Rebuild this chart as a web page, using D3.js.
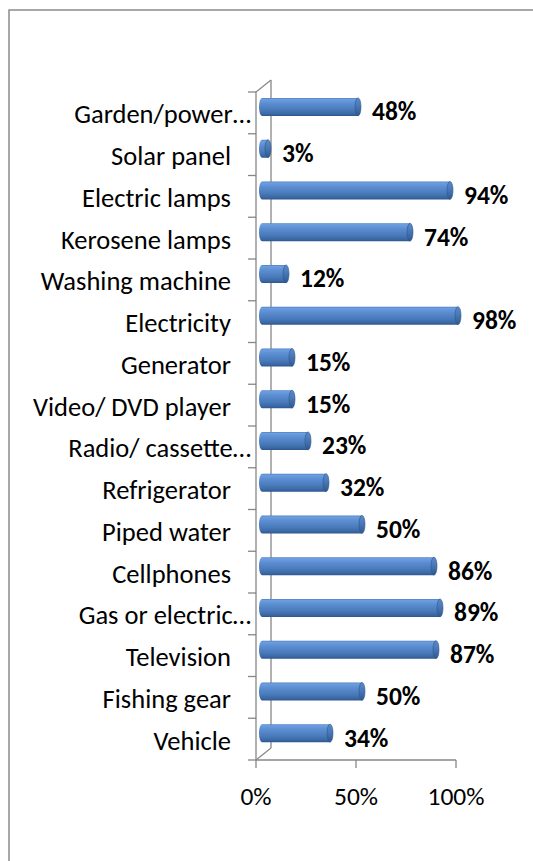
<!DOCTYPE html>
<html>
<head>
<meta charset="utf-8">
<script src="https://cdn.jsdelivr.net/npm/d3@7/dist/d3.min.js"></script>
<style>
  html, body { margin: 0; padding: 0; background: #fff; }
  svg { display: block; }
  text { font-family: Carlito, Calibri, Lato, "Open Sans", sans-serif; fill: #000; }
</style>
</head>
<body>
<svg id="chart" width="533" height="861"></svg>
<script>
// Household assets / services, share of households (%)
const categories = [
  "Garden/power\u2026", "Solar panel", "Electric lamps", "Kerosene lamps",
  "Washing machine", "Electricity", "Generator", "Video/ DVD player",
  "Radio/ cassette\u2026", "Refrigerator", "Piped water", "Cellphones",
  "Gas or electric\u2026", "Television", "Fishing gear", "Vehicle"
];
const values = [48, 3, 94, 74, 12, 98, 15, 15, 23, 32, 50, 86, 89, 87, 50, 34];
const xTicks = [0, 50, 100];

const svg = d3.select("#chart");
const W = 533, H = 861;
const catFont = 26.5, valFont = 25.5, tickFont = 25.5;

// 3-D box geometry: front plane and wall depth offset
const depthX = 15, depthY = -12;
const barShiftX = 6, barShiftY = -6;   // bars sit midway into the depth
const barThick = 18, capRx = 3;

const x = d3.scaleLinear().domain([0, 100]).range([256, 456]);
const y = d3.scaleBand().domain(categories).range([92, 760]).paddingInner(0).paddingOuter(0);

// outer chart frame
svg.append("rect")
  .attr("x", 9).attr("y", 10)
  .attr("width", W + 20).attr("height", H + 20)
  .attr("fill", "#fff")
  .attr("stroke", "#8c8c8c").attr("stroke-width", 1.5);

// gradients for the cylinders
const defs = svg.append("defs");
const body = defs.append("linearGradient").attr("id", "cylBody")
  .attr("x1", 0).attr("y1", 0).attr("x2", 0).attr("y2", 1);
[[0, "#4a7bbd"], [0.08, "#6d9fe0"], [0.3, "#5b8ed2"], [0.65, "#4a7bbb"], [0.88, "#3c69a6"], [1, "#2e5790"]]
  .forEach(([o, c]) => body.append("stop").attr("offset", o).attr("stop-color", c));
const cap = defs.append("linearGradient").attr("id", "cylCap")
  .attr("x1", 0).attr("y1", 0).attr("x2", 0).attr("y2", 1);
[[0, "#5b8bcb"], [0.45, "#4a78b6"], [1, "#2f5890"]]
  .forEach(([o, c]) => cap.append("stop").attr("offset", o).attr("stop-color", c));

// axis walls
const axisColor = "#878787";
const g = svg.append("g").attr("stroke", axisColor).attr("stroke-width", 1.3).attr("fill", "none");
const yTop = y.range()[0], yBot = y.range()[1];
const x0 = x(0);
g.append("line").attr("x1", x0).attr("y1", yTop).attr("x2", x0).attr("y2", yBot);
g.append("line").attr("x1", x0).attr("y1", yTop).attr("x2", x0 + depthX).attr("y2", yTop + depthY);
g.append("line").attr("x1", x0 + depthX).attr("y1", yTop + depthY).attr("x2", x0 + depthX).attr("y2", yBot + depthY);
g.append("line").attr("x1", x0).attr("y1", yBot).attr("x2", x0 + depthX).attr("y2", yBot + depthY);
g.append("line").attr("x1", x0).attr("y1", yBot).attr("x2", x(100)).attr("y2", yBot);

// category tick marks on the front edge
const bounds = categories.map(c => y(c)).concat([yBot]);
g.selectAll("line.ytick").data(bounds).join("line").attr("class", "ytick")
  .attr("x1", x0 - 8).attr("x2", x0).attr("y1", d => d).attr("y2", d => d);

// value axis ticks and labels
g.selectAll("line.xtick").data(xTicks).join("line").attr("class", "xtick")
  .attr("x1", d => x(d)).attr("x2", d => x(d)).attr("y1", yBot).attr("y2", yBot + 8);
svg.selectAll("text.xlab").data(xTicks).join("text").attr("class", "xlab")
  .attr("x", d => x(d)).attr("y", 805)
  .attr("text-anchor", "middle").attr("font-size", tickFont)
  .text(d => d + "%");

// category labels (truncated names run closer to the axis)
svg.selectAll("text.cat").data(categories).join("text").attr("class", "cat")
  .attr("x", d => d.endsWith("\u2026") ? 251 : 231)
  .attr("y", d => y(d) + y.bandwidth() / 2 + 10.5)
  .attr("text-anchor", "end").attr("font-size", catFont)
  .text(d => d);

// cylinders
const data = categories.map((c, i) => ({ c, v: values[i] }));
const bars = svg.append("g").selectAll("g").data(data).join("g");
const xb = v => x(v) + barShiftX;
const cy = d => y(d.c) + y.bandwidth() / 2 + barShiftY;
const ry = barThick / 2;
bars.append("path")
  .attr("d", d => {
    const a = xb(0), b = xb(d.v), t = cy(d) - ry, btm = cy(d) + ry;
    return `M${a},${t}L${b},${t}L${b},${btm}L${a},${btm}A${capRx},${ry} 0 0 1 ${a},${t}Z`;
  })
  .attr("fill", "url(#cylBody)");
bars.append("ellipse")
  .attr("cx", d => xb(d.v)).attr("cy", cy)
  .attr("rx", capRx).attr("ry", ry)
  .attr("fill", "url(#cylCap)")
  .attr("stroke", "#2c558c").attr("stroke-width", 0.6);

// value labels
svg.selectAll("text.val").data(data).join("text").attr("class", "val")
  .attr("x", d => xb(d.v) + capRx + 11)
  .attr("y", d => y(d.c) + y.bandwidth() / 2 + 7.5)
  .attr("font-size", valFont).attr("font-weight", "bold")
  .text(d => d.v + "%");
</script>
</body>
</html>
